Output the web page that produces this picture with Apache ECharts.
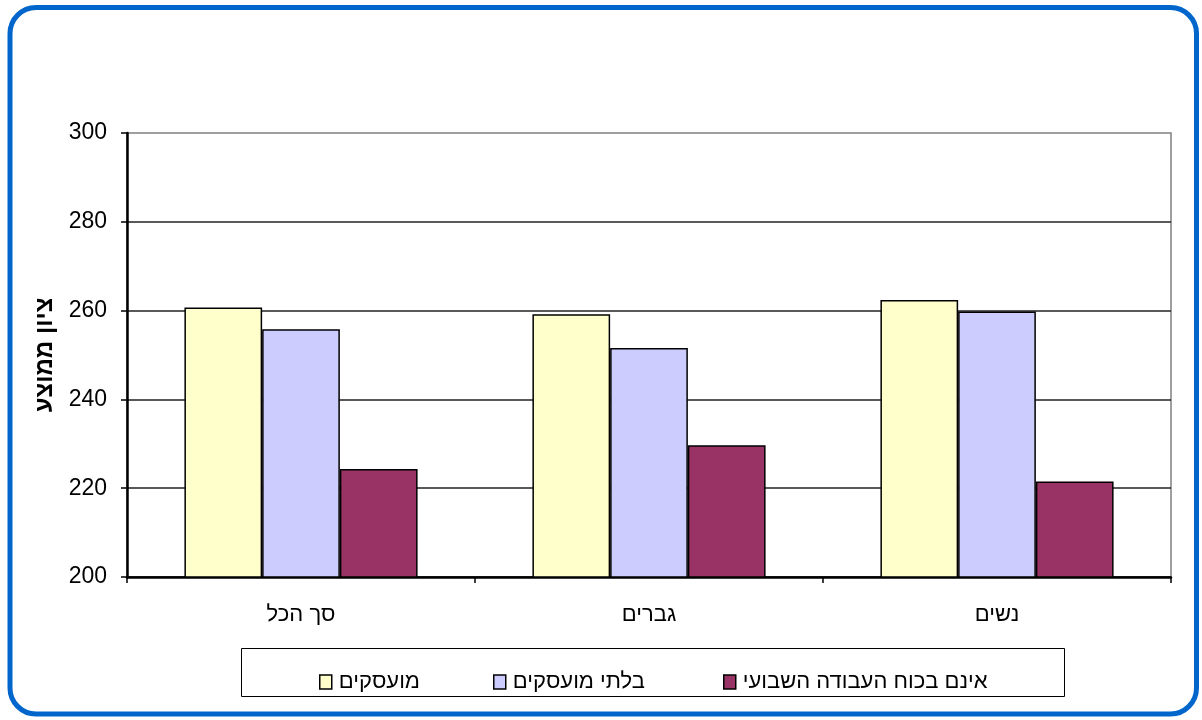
<!DOCTYPE html>
<html>
<head>
<meta charset="utf-8">
<script src="https://cdn.jsdelivr.net/npm/echarts@6/dist/echarts.min.js"></script>
<style>
  html, body { margin: 0; padding: 0; background: #fff; }
  #chart { width: 1202px; height: 720px; }
</style>
</head>
<body>
<div id="chart"></div>
<script>
const categories = ['סך הכל', 'גברים', 'נשים']
const employed = [260.7, 259.2, 262.4]
const unemployed = [255.8, 251.6, 259.8]
const notInLabor = [224.3, 229.7, 221.5]
const seriesNames = ['מועסקים', 'בלתי מועסקים', 'אינם בכוח העבודה השבועי']
const yMin = 200
const yMax = 300
const yStep = 20

const font = '"Liberation Sans", Arial, sans-serif'
const chart = echarts.init(document.getElementById('chart'))

const barStyle = (color) => ({
  color,
  borderColor: '#000',
  borderWidth: 1.5,
})

// one legend per item so each sits where the original has it
const legendAt = (name, left) => ({
  left,
  top: 666,
  icon: 'rect',
  itemWidth: 12,
  itemHeight: 14,
  textStyle: { color: '#000', fontSize: 22, fontFamily: font, padding: [0, 0, 0, 2] },
  itemStyle: { borderColor: '#000', borderWidth: 1.5 },
  data: [name],
})

chart.setOption({
  animation: false,
  backgroundColor: '#fff',
  textStyle: { fontFamily: font },
  graphic: [
    {
      type: 'rect',
      shape: { x: 10, y: 7.5, width: 1186.5, height: 706.5, r: 26 },
      style: { fill: 'none', stroke: '#0066cc', lineWidth: 5 },
      z: 0,
    },
    {
      type: 'rect',
      shape: { x: 241.5, y: 648.5, width: 823, height: 48 },
      style: { fill: '#fff', stroke: '#000', lineWidth: 1 },
      z: 0,
    },
  ],
  legend: [
    legendAt(seriesNames[0], 314),
    legendAt(seriesNames[1], 488),
    legendAt(seriesNames[2], 718),
  ],
  grid: {
    left: 127,
    right: 31,
    top: 133,
    bottom: 143,
    show: true,
    borderColor: '#808080',
    borderWidth: 1.5,
  },
  xAxis: {
    type: 'category',
    data: categories,
    axisLine: { lineStyle: { color: '#000', width: 2.5 } },
    axisTick: { show: true, length: 6, lineStyle: { color: '#000', width: 1.5 } },
    axisLabel: { color: '#000', fontSize: 22, margin: 27 },
  },
  yAxis: {
    type: 'value',
    min: yMin,
    max: yMax,
    interval: yStep,
    name: 'ציון ממוצע',
    nameLocation: 'middle',
    nameGap: 66,
    nameTextStyle: { color: '#000', fontSize: 24, fontWeight: 'bold' },
    axisLine: { show: true, lineStyle: { color: '#000', width: 2.5 } },
    axisTick: { show: true, length: 6, lineStyle: { color: '#000', width: 1.5 } },
    axisLabel: { color: '#000', fontSize: 23, margin: 20 },
    splitLine: { show: true, showMaxLine: false, lineStyle: { color: '#222', width: 1.5 } },
  },
  series: [
    {
      name: seriesNames[0],
      type: 'bar',
      data: employed,
      barGap: '0%',
      barCategoryGap: '33%',
      itemStyle: barStyle('#ffffcc'),
    },
    {
      name: seriesNames[1],
      type: 'bar',
      data: unemployed,
      barGap: '0%',
      barCategoryGap: '33%',
      itemStyle: barStyle('#ccccff'),
    },
    {
      name: seriesNames[2],
      type: 'bar',
      data: notInLabor,
      barGap: '0%',
      barCategoryGap: '33%',
      itemStyle: barStyle('#993366'),
    },
  ],
})
</script>
</body>
</html>
